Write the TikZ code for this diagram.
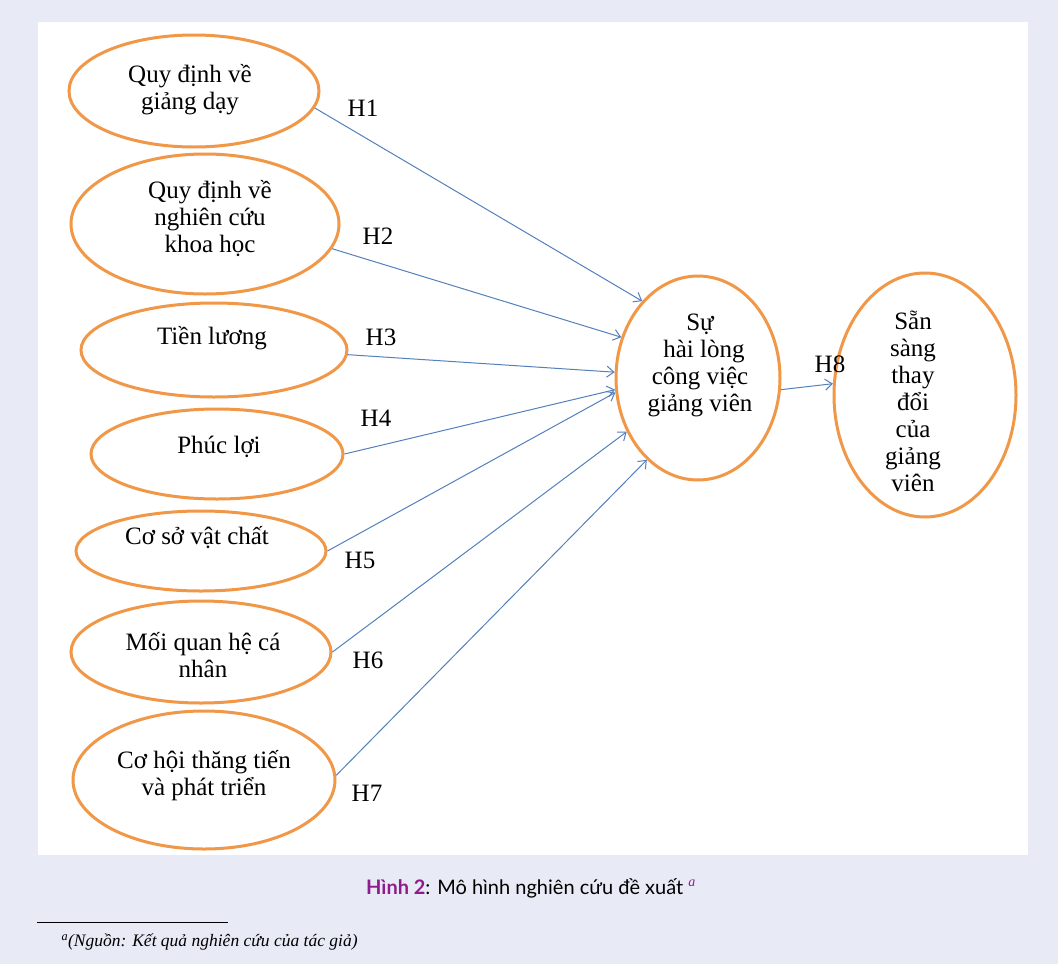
\documentclass[tikz,border=0pt]{standalone}
\usepackage{fontspec}
\setmainfont{Liberation Serif}
\newfontfamily\capfont{Lato}
\usetikzlibrary{arrows.meta,shapes.geometric}
\definecolor{ovalorange}{RGB}{240,152,72}
\definecolor{arrowblue}{RGB}{84,128,188}
\definecolor{pagebg}{RGB}{232,235,246}
\definecolor{figpurple}{RGB}{142,28,142}

\begin{document}
\begin{tikzpicture}[x=1pt,y=-1pt,>={Straight Barb[length=7pt,width=11pt]},
  oval/.style={ellipse,draw=ovalorange,line width=3pt,inner sep=0pt},
  txt/.style={align=center,font=\fontsize{25}{27}\selectfont},
  hyp/.style={->,draw=arrowblue,line width=1pt},
  hlabel/.style={font=\fontsize{25}{27}\selectfont}]
  % page and panel
  \fill[pagebg] (0,0) rectangle (1058,964);
  \useasboundingbox (0,0) rectangle (1058,964);
  \fill[white] (38,22) rectangle (1028,855);

  % factors
  \node[oval,minimum width=250pt,minimum height=112pt] (gd) at (194,91) {};
  \node[txt] (gd-t) at (190,90) {Quy định về\\giảng dạy};
  \node[oval,minimum width=268pt,minimum height=140pt] (nc) at (205,224) {};
  \node[txt] (nc-t) at (210,219) {Quy định về\\nghiên cứu\\khoa học};
  \node[oval,minimum width=266pt,minimum height=94pt] (tl) at (214,350) {};
  \node[txt] (tl-t) at (212,338) {Tiền lương};
  \node[oval,minimum width=252pt,minimum height=90pt] (pl) at (217,454) {};
  \node[txt] (pl-t) at (219,447) {Phúc lợi};
  \node[oval,minimum width=250pt,minimum height=80pt] (cs) at (201,551) {};
  \node[txt] (cs-t) at (197,538) {Cơ sở vật chất};
  \node[oval,minimum width=260pt,minimum height=102pt] (mq) at (201,652) {};
  \node[txt] (mq-t) at (203,655) {Mối quan hệ cá\\nhân};
  \node[oval,minimum width=262pt,minimum height=138pt] (ct) at (204,780) {};
  \node[txt] (ct-t) at (204,776) {Cơ hội thăng tiến\\và phát triển};

  % outcomes
  \node[oval,minimum width=164pt,minimum height=204pt] (hl) at (698,378) {};
  \node[txt] (hl-t) at (700,365) {Sự\\\hspace{8pt}hài lòng\\công việc\\giảng viên};
  \node[oval,minimum width=182pt,minimum height=244pt] (ss) at (925,395) {};
  \node[txt] (ss-t) at (913,401) {Sẵn\\sàng\\thay\\đổi\\của\\giảng\\viên};

  % hypotheses
  \draw[hyp] (gd.-8) -- (hl.126);
  \draw[hyp] (nc.-11) -- (hl.152);
  \draw[hyp] (tl.-2) -- (hl.176);
  \draw[hyp] (pl.0) -- (hl.-172);
  \draw[hyp] (cs.0) -- (hl.-170);
  \draw[hyp] (mq.0) -- (hl.-143);
  \draw[hyp] (ct.2) -- (hl.-122);
  \draw[hyp] (hl.-8) -- (ss.173);

  \node[hlabel] (h1) at (363,108) {H1};
  \node[hlabel] (h2) at (378,236) {H2};
  \node[hlabel] (h3) at (381,337) {H3};
  \node[hlabel] (h4) at (376,418) {H4};
  \node[hlabel] (h5) at (360,560) {H5};
  \node[hlabel] (h6) at (368,660) {H6};
  \node[hlabel] (h7) at (367,793) {H7};
  \node[hlabel] (h8) at (830,364) {H8};

  % caption and source
  \node (cap) at (531,888) {\capfont\fontsize{20}{22}\selectfont\textcolor{figpurple}{\bfseries Hình 2}: Mô hình nghiên cứu đề xuất \textsuperscript{\color{figpurple}\rmfamily\itshape a}};
  \draw[line width=0.8pt] (37,922) -- (228,922);
  \node[anchor=west,font=\fontsize{17.5}{19}\selectfont\itshape] (src) at (58,942) {\textsuperscript{a}(Nguồn: Kết quả nghiên cứu của tác giả)};
\end{tikzpicture}
\end{document}
